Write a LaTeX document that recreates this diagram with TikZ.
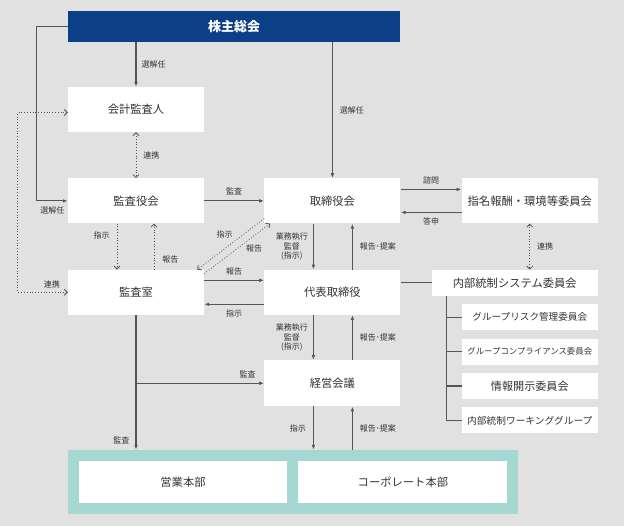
\documentclass[tikz,border=0pt]{standalone}
\usepackage{fontspec}
\setmainfont{Noto Sans CJK JP}
\usetikzlibrary{positioning,arrows.meta,calc}
\definecolor{bggray}{HTML}{E1E1E1}
\definecolor{gmsblue}{HTML}{0B3F86}
\definecolor{deptteal}{HTML}{A5D8D3}
\definecolor{linegray}{HTML}{555555}
\definecolor{txtgray}{HTML}{333333}

\begin{document}
\begin{tikzpicture}[
  x=1pt, y=-1pt,
  >={Latex[length=5pt,width=3.6pt]},
  font=\fontsize{11.3}{13}\selectfont,
  box/.style   ={rectangle, fill=white, text=txtgray, minimum width=136pt, minimum height=45pt, inner sep=0pt},
  gms/.style   ={rectangle, fill=gmsblue, text=white, font=\fontsize{13}{15}\selectfont\bfseries, minimum width=332pt, minimum height=31pt, inner sep=0pt},
  subbox/.style={rectangle, fill=white, text=txtgray, minimum width=136pt, minimum height=26pt, inner sep=0pt},
  dept/.style  ={rectangle, fill=deptteal, minimum width=450pt, minimum height=64pt, inner sep=0pt},
  lbl/.style   ={font=\fontsize{8}{9.6}\selectfont, text=txtgray, inner sep=1pt, align=center},
  arc/.style   ={->, linegray, line width=1.1pt},
  link/.style  ={linegray, line width=1.1pt},
  dotarc/.style={linegray, dotted, line width=0.8pt, >={Straight Barb[length=3pt,width=6pt]}},
  node distance=46pt and 60pt
]

% ---- Background ---------------------------------------------------------------
\fill[bggray] (0,0) rectangle (624,526);

% ---- General meeting ----------------------------------------------------------
\node[gms] (gms) at (234,26.5) {株主総会};

% ---- Left column: auditors ----------------------------------------------------
\node[box] (kaikei) at (136,109.5) {会計監査人};
\node[box, below=of kaikei] (kansayaku) {監査役会};
\node[box, below=of kansayaku] (kansashitsu) {監査室};

% ---- Centre column: board and executives --------------------------------------
\node[box, right=of kansayaku] (torishimari) {取締役会};
\node[box, right=of kansashitsu] (daihyo) {代表取締役};
\node[box, below=45pt of daihyo, minimum height=46pt] (keiei) {経営会議};

% ---- Right column: committees -------------------------------------------------
\node[box, right=61pt of torishimari] (shimei) {指名報酬・環境等委員会};
\node[subbox, minimum width=166pt, anchor=north east] (naibu) at (shimei.south east |- daihyo.north) {内部統制システム委員会};
\node[subbox, below=8pt of naibu.south east, anchor=north east, font=\fontsize{9.6}{11}\selectfont] (sub1) {グループリスク管理委員会};
\node[subbox, below=8pt of sub1, font=\fontsize{8.4}{10}\selectfont] (sub2) {グループコンプライアンス委員会};
\node[subbox, below=8pt of sub2, font=\fontsize{11.1}{13}\selectfont] (sub3) {情報開示委員会};
\node[subbox, below=8pt of sub3, font=\fontsize{9.7}{11}\selectfont] (sub4) {内部統制ワーキンググループ};

% ---- Bottom: divisions --------------------------------------------------------
\node[dept] (honbu) at (293,482) {};
\node[box, minimum width=208pt, minimum height=42pt] (eigyo) at (183,482) {営業本部};
\node[box, minimum width=209pt, minimum height=42pt, right=11pt of eigyo] (corp) {コーポレート本部};

% ---- Appointment from the general meeting -------------------------------------
\draw[arc] (kaikei.north |- gms.south) -- node[lbl, right=4pt]{選解任} (kaikei.north);
\draw[arc] (torishimari.north |- gms.south) -- node[lbl, right=6pt]{選解任} (torishimari.north);
\draw[arc] (gms.west) -- ++(-31,0) |- node[lbl, pos=0.75, below=4pt]{選解任} (kansayaku.west);

% ---- Dotted links among the auditors ------------------------------------------
\draw[dotarc, <->] (kaikei) -- node[lbl, right=6pt]{連携} (kansayaku);
\draw[dotarc, <->] (kansashitsu.west) -- node[lbl, above=3pt, xshift=9pt]{連携} ++(-50,0) |- ([yshift=-3pt]kaikei.west);
\draw[dotarc, ->] ([xshift=-19pt]kansayaku.south) -- node[lbl, pos=0.25, left=6pt]{指示} ([xshift=-19pt]kansashitsu.north);
\draw[dotarc, ->] ([xshift=18pt]kansashitsu.north) -- node[lbl, pos=0.22, right=7pt]{報告} ([xshift=18pt]kansayaku.south);
\draw[dotarc, ->] ([yshift=5pt]torishimari.south west) -- node[lbl, midway, xshift=-6pt, yshift=10pt]{指示} ([xshift=-7pt]kansashitsu.north east);
\draw[dotarc, ->] ([yshift=-4pt]kansashitsu.north east) -- node[lbl, midway, xshift=17pt]{報告} ([xshift=6pt]torishimari.south west);

% ---- Audit, reports and instructions ------------------------------------------
\draw[arc] (kansayaku) -- node[lbl, above=4pt]{監査} (torishimari);
\draw[arc] ([xshift=-19pt]torishimari.south) -- node[lbl, left=4pt]{業務執行\\監督\\(指示)} ([xshift=-19pt]daihyo.north);
\draw[arc] ([xshift=20pt]daihyo.north) -- node[lbl, right=6pt]{報告･提案} ([xshift=20pt]torishimari.south);
\draw[arc] ([yshift=12pt]kansashitsu.east) -- node[lbl, above=4pt]{報告} ([yshift=12pt]daihyo.west);
\draw[arc] ([yshift=-12pt]daihyo.west) -- node[lbl, below=4pt]{指示} ([yshift=-12pt]kansashitsu.east);

\draw[arc] ([yshift=11.5pt]torishimari.east) -- node[lbl, above=4pt]{諮問} ([yshift=11.5pt]shimei.west);
\draw[arc] ([yshift=-11.5pt]shimei.west) -- node[lbl, below=4pt]{答申} ([yshift=-11.5pt]torishimari.east);
\draw[dotarc, <->] (shimei.south) -- node[lbl, right=6pt]{連携} (shimei.south |- naibu.north);
\draw[link] (daihyo.east |- naibu.west) -- (naibu.west);

\draw[arc] ([xshift=-19pt]daihyo.south) -- node[lbl, left=4pt]{業務執行\\監督\\(指示)} ([xshift=-19pt]keiei.north);
\draw[arc] ([xshift=20pt]keiei.north) -- node[lbl, right=6pt]{報告･提案} ([xshift=20pt]daihyo.south);

\draw[arc] (kansashitsu.south) -- node[lbl, pos=0.93, left=5pt]{監査} (kansashitsu.south |- honbu.north);
\draw[arc] (kansashitsu.south |- keiei.west) -- node[lbl, pos=0.87, above=4pt]{監査} (keiei.west);
\draw[arc] ($(keiei.south)+(-19,0)$) -- node[lbl, left=6pt]{指示} ($(keiei.south |- honbu.north)+(-19,0)$);
\draw[arc] ($(keiei.south |- honbu.north)+(20,0)$) -- node[lbl, right=6pt]{報告･提案} ($(keiei.south)+(20,0)$);

% ---- Committee tree -----------------------------------------------------------
\coordinate (trunk) at ($(naibu.south west)+(15,0)$);
\draw[link] (trunk) |- (sub4.west);
\foreach \s in {sub1,sub2,sub3}
  \draw[link] (trunk |- \s.west) -- (\s.west);

\end{tikzpicture}
\end{document}
